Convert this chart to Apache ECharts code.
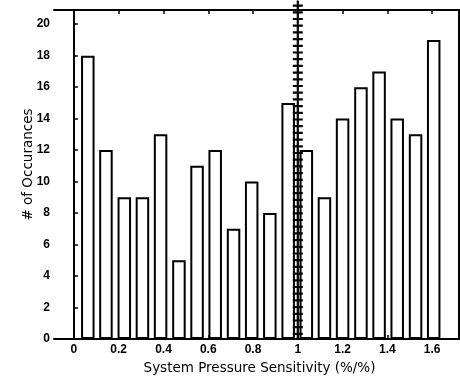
<!DOCTYPE html>
<html><head><meta charset="utf-8">
<script src="https://cdn.jsdelivr.net/npm/echarts@6/dist/echarts.min.js"></script>
<style>html,body{margin:0;padding:0;background:#fff}#c{width:460px;height:382px}</style>
</head><body><div id="c"></div>
<script>
// Bin centres (System Pressure Sensitivity, %/%)
const binCenters = [0.062, 0.143, 0.225, 0.306, 0.387, 0.469, 0.550, 0.631, 0.713, 0.794,
                    0.875, 0.957, 1.038, 1.119, 1.200, 1.282, 1.363, 1.444, 1.526, 1.607];
// # of occurrences per bin
const counts = [18, 12, 9, 9, 13, 5, 11, 12, 7, 10, 8, 15, 12, 9, 14, 16, 17, 14, 13, 19];
const xTicks = [0, 0.2, 0.4, 0.6, 0.8, 1, 1.2, 1.4, 1.6];
const yTicks = [0, 2, 4, 6, 8, 10, 12, 14, 16, 18, 20];
const refLineX = 1;
const refLineY = [0, 21.5];

const font = 'Liberation Sans, Arial, sans-serif';
const titleFont = 'DejaVu Sans, sans-serif';
const xMin = -0.089, xMax = 1.72, yMin = 0, yMax = 20.9;

const chart = echarts.init(document.getElementById('c'), null, {renderer: 'canvas'});
const barData = binCenters.map((x, i) => [x, counts[i]]);
const refData = refLineY.map(y => [refLineX, y]);

chart.setOption({
  backgroundColor: '#fff',
  animation: false,
  grid: {left: 54, top: 10, right: 1, bottom: 43},
  xAxis: [{
    type: 'value', min: xMin, max: xMax, position: 'bottom',
    name: 'System Pressure Sensitivity (%/%)', nameLocation: 'middle', nameGap: 22,
    nameTextStyle: {color: '#000', fontFamily: titleFont, fontSize: 13.5, padding: [0, 0, 0, 6]},
    axisLine: {show: true, lineStyle: {color: '#000', width: 2}},
    axisTick: {show: true, inside: true, length: 4, customValues: xTicks, lineStyle: {color: '#000', width: 1.5}},
    axisLabel: {show: true, customValues: xTicks, color: '#000', fontFamily: font, fontSize: 12, fontWeight: 'bold', margin: 5,
      formatter: v => String(v)},
    splitLine: {show: false}
  }, {
    type: 'value', min: xMin, max: xMax, position: 'top',
    axisLine: {show: true, onZero: false, lineStyle: {color: '#000', width: 2}},
    axisTick: {show: true, inside: true, length: 4, customValues: xTicks, lineStyle: {color: '#000', width: 1.5}},
    axisLabel: {show: false}, splitLine: {show: false}
  }],
  yAxis: [{
    type: 'value', min: yMin, max: yMax, position: 'left',
    name: '# of Occurances', nameLocation: 'middle', nameGap: 19, nameMoveOverlap: false,
    nameTextStyle: {color: '#000', fontFamily: titleFont, fontSize: 13.5, padding: [0, 0, 0, 20]},
    axisLine: {show: true, lineStyle: {color: '#000', width: 2}},
    axisTick: {show: true, inside: true, length: 4, customValues: yTicks, lineStyle: {color: '#000', width: 1.5}},
    axisLabel: {show: true, customValues: yTicks, color: '#000', fontFamily: font, fontSize: 12, fontWeight: 'bold', margin: 4},
    splitLine: {show: false}
  }, {
    type: 'value', min: yMin, max: yMax, position: 'right',
    axisLine: {show: true, onZero: false, lineStyle: {color: '#000', width: 2}},
    axisTick: {show: false}, axisLabel: {show: false}, splitLine: {show: false}
  }],
  series: [{
    type: 'bar', data: barData, barWidth: 13.5, xAxisIndex: 0, yAxisIndex: 0,
    itemStyle: {color: '#fff', borderColor: '#000', borderWidth: 2}
  }, {
    type: 'line', data: refData, clip: false, symbol: 'none', xAxisIndex: 0, yAxisIndex: 0,
    lineStyle: {color: '#000', width: 2.2}, z: 5
  }, {
    type: 'line', data: refData, clip: false, symbol: 'none', xAxisIndex: 0, yAxisIndex: 0,
    lineStyle: {color: '#000', width: 10, type: [2.2, 4.5], dashOffset: -4, cap: 'butt'}, z: 5
  }]
});
</script></body></html>
